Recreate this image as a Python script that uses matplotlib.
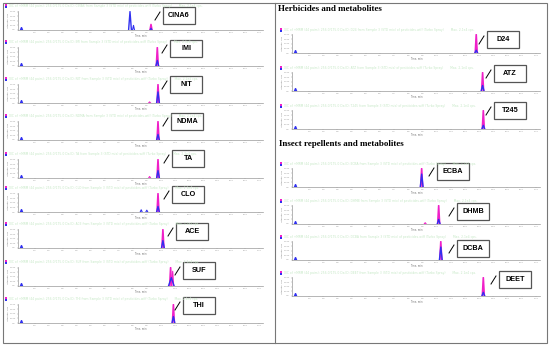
import matplotlib
matplotlib.use("Agg")
import matplotlib.pyplot as plt
from matplotlib.patches import Rectangle

W, H = 550, 345
PINK = "#f020c8"
BLUE = "#3030f0"
HEAD = "#c6e8c6"

# neonicotinoids (left column)
left_names = ["CINA6", "IMI", "NIT", "NDMA", "TA", "CLO", "ACE", "SUF", "THI"]
left_pink_rt = [9.3, 9.75, 9.8, 9.8, 9.8, 9.8, 10.15, 10.7, 10.9]
left_pink_h = [0.3, 1.0, 1.0, 1.0, 1.0, 1.0, 1.0, 1.0, 1.0]
left_blue_rt = [7.8, 9.75, 9.8, 9.8, 9.8, 9.8, 10.15, 10.75, 10.9]
left_blue_h = [1.0, 0.3, 0.6, 0.3, 0.4, 0.3, 0.4, 0.45, 0.35]
left_start = [7.2, 7.2, 7.2, 7.2, 7.2, 7.4, 7.2, 7.3, 7.2]
left_end = [12.6, 17.3, 17.3, 17.3, 17.3, 12.3, 17.3, 12.6, 17.3]
# small extra peaks: panel index, time, height, colour
left_extra = [(0, 8.05, 0.25, "b"), (0, 9.3, 0.1, "b"), (2, 9.2, 0.06, "p"),
              (4, 9.2, 0.08, "p"), (5, 8.6, 0.12, "b"), (5, 9.0, 0.1, "b"),
              (7, 10.85, 0.8, "p")]

# herbicides + insect repellents (right column)
right_names = ["D24", "ATZ", "T245", "ECBA", "DHMB", "DCBA", "DEET"]
right_pink_rt = [12.8, 13.25, 13.3, 8.95, 10.15, 10.3, 13.3]
right_pink_h = [1.0, 1.0, 1.0, 1.0, 1.0, 1.0, 1.0]
right_blue_h = [0.15, 0.3, 0.2, 0.7, 0.25, 0.7, 0.2]
right_start = [11.3, 7.2, 11.4, 7.2, 7.2, 7.0, 7.0]
right_end = [16.2, 17.3, 16.2, 17.3, 17.3, 17.3, 17.3]
right_extra = [(4, 9.2, 0.07, "p")]

xticks = list(range(1, 18))
yticks = [0, 0.25, 0.5, 0.75, 1.0]
ytick_labels = ["0.0", "5.0e3", "1.0e4", "1.5e4", "2.0e4"]

# layout (pixels)
left_head = [6, 42, 79, 116, 154, 188, 224, 262, 299]
right_head = [30, 68, 106, 164, 201, 237, 273]
left_box = [(163, 7), (170, 40), (170, 76), (171, 113), (172, 150),
            (172, 186), (176, 223), (183, 262), (183, 297)]
right_box = [(487, 31), (494, 65), (494, 102), (437, 163), (457, 203),
             (457, 240), (499, 271)]

fig = plt.figure(figsize=(5.5, 3.45), dpi=100)
fig.patch.set_facecolor("white")


def px_axes(x0, y0, x1, y1):
    return fig.add_axes([x0 / W, 1 - y1 / H, (x1 - x0) / W, (y1 - y0) / H])


def spike(t, h, hw):
    return [t - hw, t, t + hw], [0, h, 0]


def panel(ax, start, end, prt, ph, brt, bh, extras, bw=0.1):
    ax.set_facecolor("none")
    ax.plot([start, end], [0, 0], color=PINK, lw=0.6)
    x, y = spike(prt, ph, 0.07)
    ax.plot(x, y, color=PINK, lw=1.2)
    for t, h, c in extras:
        x, y = spike(t, h, 0.07)
        ax.plot(x, y, color=PINK if c == "p" else BLUE, lw=0.8)
    ax.plot([start, end], [0, 0], color=BLUE, lw=0.6, alpha=0.8)
    x, y = spike(brt, bh, bw)
    ax.plot(x, y, color=BLUE, lw=1.0)
    x, y = spike(0.05, 0.12, 0.06)
    ax.plot(x, y, color=BLUE, lw=1.2)
    ax.set_xlim(-0.2, 17.3)
    ax.set_ylim(0, 1.03)
    for s in ["top", "right"]:
        ax.spines[s].set_visible(False)
    for s in ["left", "bottom"]:
        ax.spines[s].set_color("#999999")
        ax.spines[s].set_linewidth(0.5)
    ax.set_xticks(xticks)
    ax.set_xticklabels([f"{v}.0" for v in xticks])
    ax.set_yticks(yticks)
    ax.set_yticklabels(ytick_labels)
    ax.tick_params(length=1, width=0.3, colors="#999999", labelsize=1.6, pad=0.6)
    ax.set_xlabel("Time, min", fontsize=1.8, color="#777777", labelpad=0.3)
    ax.set_ylabel("Intensity, cps", fontsize=1.6, color="#777777", labelpad=0.5)


header = ("XIC of +MRM (44 pairs): 256.0/175.0 Da ID: {} from Sample 3 (STD mix) "
          "of pesticides.wiff (Turbo Spray)       Max. 2.1e4 cps.")

for i, name in enumerate(left_names):
    hy = left_head[i]
    ax = px_axes(18, hy + 5, 263, hy + 24)
    ex = [(t, h, c) for (k, t, h, c) in left_extra if k == i]
    panel(ax, left_start[i], left_end[i], left_pink_rt[i], left_pink_h[i],
          left_blue_rt[i], left_blue_h[i], ex, bw=0.2 if i == 7 else 0.1)

for i, name in enumerate(right_names):
    hy = right_head[i]
    ax = px_axes(292, hy + 4, 540, hy + 23)
    ex = [(t, h, c) for (k, t, h, c) in right_extra if k == i]
    panel(ax, right_start[i], right_end[i], right_pink_rt[i], right_pink_h[i],
          right_pink_rt[i], right_blue_h[i], ex)

# overlay for frame, headers and name boxes
ov = fig.add_axes([0, 0, 1, 1])
ov.set_xlim(0, W)
ov.set_ylim(H, 0)
ov.axis("off")
ov.add_patch(Rectangle((2.5, 2.5), 544.5, 340.5, fill=False, ec="#777777", lw=0.8))
ov.plot([274.5, 274.5], [2.5, 343], color="#777777", lw=0.8)

ov.text(278, 9, "Herbicides and metabolites", family="Liberation Serif",
        fontweight="bold", fontsize=6.5, va="center", ha="left")
ov.text(279, 144, "Insect repellents and metabolites", family="Liberation Serif",
        fontweight="bold", fontsize=6.5, va="center", ha="left")


def header_line(x, y, name):
    ov.add_patch(Rectangle((x - 1, y - 1.8), 1.6, 1.6, color=PINK, lw=0))
    ov.add_patch(Rectangle((x - 1, y + 0.2), 1.6, 1.6, color=BLUE, lw=0))
    ov.text(x + 3, y, header.format(name), fontsize=2.2, color=HEAD,
            va="center", ha="left")


def name_box(bx, by, name):
    ov.add_patch(Rectangle((bx, by), 32, 16.5, fc="white", ec="#555555", lw=0.9))
    ov.text(bx + 16, by + 8.5, name, family="Liberation Sans", fontweight="bold",
            fontsize=5.2, ha="center", va="center")
    ov.plot([bx - 8, bx - 3], [by + 13, by + 5], color="black", lw=0.7)


for i, name in enumerate(left_names):
    header_line(6, left_head[i], name)
    name_box(*left_box[i], name)
for i, name in enumerate(right_names):
    header_line(281, right_head[i], name)
    name_box(*right_box[i], name)

fig.savefig("out.png", dpi=100)
